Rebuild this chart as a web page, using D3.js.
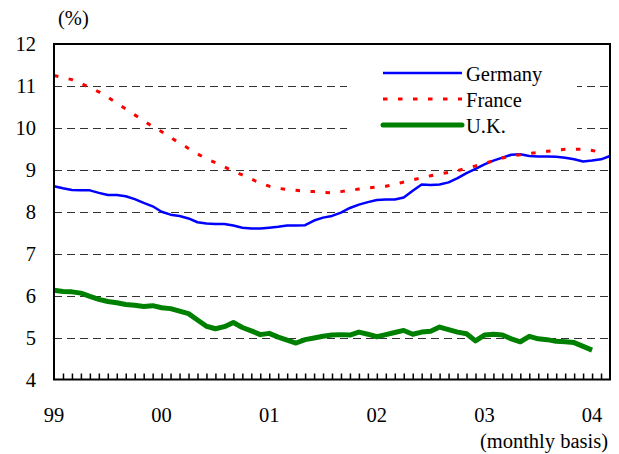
<!DOCTYPE html>
<html>
<head>
<meta charset="utf-8">
<script src="https://cdn.jsdelivr.net/npm/d3@7"></script>
<style>
  body { margin: 0; background: #fff; }
  svg text { font-family: "Liberation Serif", "Times New Roman", serif; font-size: 20.5px; fill: #000; }
</style>
</head>
<body>
<div id="chart"></div>
<script>
// monthly values, Jan 1999 = month 0
var germany = [8.61, 8.56, 8.52, 8.51, 8.51, 8.45, 8.40, 8.40, 8.37, 8.30, 8.21, 8.13,
  8.00, 7.93, 7.90, 7.84, 7.75, 7.72, 7.71, 7.71, 7.67, 7.62, 7.60, 7.60,
  7.62, 7.64, 7.67, 7.67, 7.68, 7.79, 7.86, 7.90, 7.98, 8.09, 8.17, 8.23,
  8.28, 8.29, 8.29, 8.34, 8.50, 8.65, 8.64, 8.65, 8.70, 8.80, 8.92, 9.02,
  9.13, 9.22, 9.29, 9.36, 9.37, 9.33, 9.32, 9.32, 9.31, 9.29, 9.25, 9.20,
  9.22, 9.25, 9.33];
var france = [11.25, 11.20, 11.15, 11.06, 10.96, 10.86, 10.73, 10.59, 10.45, 10.31, 10.17, 10.03,
  9.91, 9.77, 9.64, 9.51, 9.38, 9.26, 9.17, 9.07, 8.97, 8.88, 8.78, 8.68,
  8.61, 8.56, 8.53, 8.51, 8.49, 8.48, 8.46, 8.45, 8.48, 8.51, 8.54, 8.57,
  8.59, 8.61, 8.65, 8.71, 8.76, 8.81, 8.86, 8.90, 8.94, 8.98, 9.04, 9.09,
  9.15, 9.22, 9.28, 9.33, 9.36, 9.39, 9.41, 9.44, 9.47, 9.49, 9.49, 9.49,
  9.46, 9.42];
var uk = [6.13, 6.10, 6.09, 6.06, 5.98, 5.91, 5.86, 5.83, 5.79, 5.77, 5.74, 5.76,
  5.71, 5.69, 5.63, 5.57, 5.42, 5.27, 5.21, 5.26, 5.36, 5.24, 5.16, 5.07,
  5.10, 5.01, 4.94, 4.87, 4.95, 4.99, 5.03, 5.06, 5.07, 5.06, 5.13, 5.08,
  5.02, 5.07, 5.12, 5.17, 5.08, 5.13, 5.15, 5.25, 5.19, 5.13, 5.09, 4.92,
  5.06, 5.08, 5.06, 4.97, 4.90, 5.03, 4.97, 4.95, 4.91, 4.90, 4.88, 4.79,
  4.70];
var yearLabels = ["99", "00", "01", "02", "03", "04"];
var yTicks = [4, 5, 6, 7, 8, 9, 10, 11, 12];
var gridValues = [5, 6, 7, 8, 9, 10, 11];

var series = [
  {name: "Germany", values: germany, color: "#0000ff", width: 2.5, dash: null},
  {name: "France", values: france, color: "#ff0000", width: 3, dash: "4.5,10.5"},
  {name: "U.K.", values: uk, color: "#008000", width: 5, dash: null}
];

var margin = {top: 44, right: 9, bottom: 74.5, left: 54};
var width = 619 - margin.left - margin.right;
var height = 454 - margin.top - margin.bottom;

var svg = d3.select("#chart")
  .append("svg")
    .attr("width", 619)
    .attr("height", 454)
  .append("g")
    .attr("transform", "translate(" + margin.left + "," + margin.top + ")");

var xScale = d3.scaleLinear().domain([0, 62]).range([0, width]);
var yScale = d3.scaleLinear().domain([4, 12]).range([height, 0]);

// dashed gridlines
svg.append("g")
  .selectAll("line")
  .data(gridValues)
  .enter()
  .append("line")
    .attr("x1", 0)
    .attr("x2", width)
    .attr("y1", function(d) { return Math.round(yScale(d)) + 0.5; })
    .attr("y2", function(d) { return Math.round(yScale(d)) + 0.5; })
    .style("stroke", "#333")
    .style("stroke-width", 1)
    .style("stroke-dasharray", "8,5");

// legend box hides the gridlines behind it
var legendX = 293;
svg.append("rect")
  .attr("x", legendX)
  .attr("y", 14)
  .attr("width", 230)
  .attr("height", 84)
  .style("fill", "#fff");

// y axis labels
svg.append("g")
  .selectAll("text")
  .data(yTicks)
  .enter()
  .append("text")
    .attr("x", -18)
    .attr("y", function(d) { return yScale(d) + 7; })
    .attr("text-anchor", "end")
    .text(function(d) { return d; });

svg.append("text")
  .attr("x", 4)
  .attr("y", -19)
  .text("(%)");

// monthly ticks pointing up from the bottom axis
svg.append("g")
  .attr("transform", "translate(0," + height + ")")
  .call(d3.axisTop(xScale).tickValues(d3.range(1, 62)).tickSize(6).tickFormat(""))
  .call(function(g) { g.select(".domain").remove(); })
  .call(function(g) { g.selectAll("line").style("stroke", "#000").style("stroke-width", 1.5); });

// year labels
svg.append("g")
  .selectAll("text")
  .data(yearLabels)
  .enter()
  .append("text")
    .attr("x", function(d, i) { return xScale(i * 12); })
    .attr("y", height + 42)
    .attr("text-anchor", "middle")
    .text(function(d) { return d; });

svg.append("text")
  .attr("x", width - 2)
  .attr("y", height + 68)
  .attr("text-anchor", "end")
  .text("(monthly basis)");

// lines
var line = d3.line()
  .x(function(d, i) { return xScale(i); })
  .y(function(d) { return yScale(d); });

svg.append("g")
  .selectAll("path")
  .data(series)
  .enter()
  .append("path")
    .attr("d", function(d) { return line(d.values); })
    .style("fill", "none")
    .style("stroke", function(d) { return d.color; })
    .style("stroke-width", function(d) { return d.width; })
    .style("stroke-dasharray", function(d) { return d.dash; })
    .style("stroke-linejoin", "round");

// legend
var legend = svg.append("g")
  .selectAll("g")
  .data(series)
  .enter()
  .append("g")
    .attr("transform", function(d, i) { return "translate(" + (legendX + 36) + "," + (29 + i * 26) + ")"; });

legend.append("line")
  .attr("x1", 0)
  .attr("x2", 79)
  .style("stroke", function(d) { return d.color; })
  .style("stroke-width", function(d) { return d.width; })
  .style("stroke-dasharray", function(d) { return d.dash; })
  .style("stroke-linecap", function(d) { return d.name === "U.K." ? "round" : "butt"; });

legend.append("text")
  .attr("x", 83)
  .attr("y", 8)
  .text(function(d) { return d.name; });

// plot frame
svg.append("rect")
  .attr("width", width)
  .attr("height", height)
  .style("fill", "none")
  .style("stroke", "#000")
  .style("stroke-width", 2);
</script>
</body>
</html>
